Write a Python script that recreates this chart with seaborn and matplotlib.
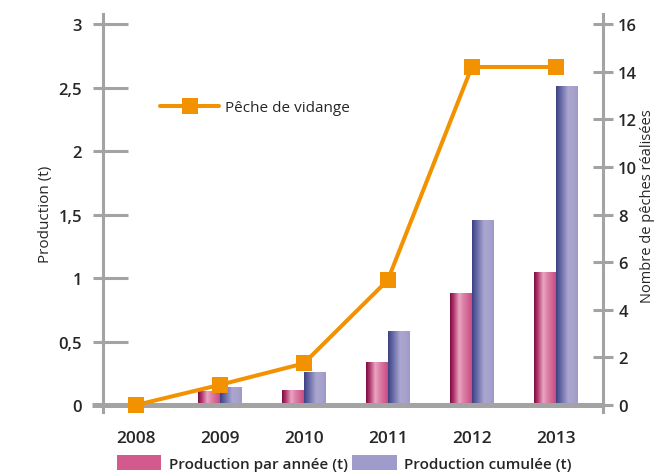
import numpy as np
import pandas as pd
import matplotlib.pyplot as plt
import matplotlib.colors as mcolors
from matplotlib.patches import Patch
from matplotlib.ticker import FixedLocator
import seaborn as sns

# ------------------------- data -------------------------
annees = ['2008', '2009', '2010', '2011', '2012', '2013']
prod_annee = [0, 0.11, 0.12, 0.34, 0.88, 1.05]
prod_cumul = [0, 0.14, 0.26, 0.58, 1.46, 2.51]
peches = [0, 0.85, 1.75, 5.25, 14.2, 14.2]

lab_annee = 'Production par année (t)'
lab_cumul = 'Production cumulée (t)'
lab_peche = 'Pêche de vidange'

left_ticks = [0, 0.5, 1, 1.5, 2, 2.5, 3]
left_labels = ['0', '0,5', '1', '1,5', '2', '2,5', '3']
right_ticks = [0, 2, 4, 6, 8, 10, 12, 14, 16]

df = pd.DataFrame({
    'annee': annees * 2,
    'production': prod_annee + prod_cumul,
    'serie': [lab_annee] * len(annees) + [lab_cumul] * len(annees),
})

# ------------------------- style -------------------------
sns.set_style('white')
plt.rcParams['font.family'] = ['Open Sans', 'DejaVu Sans']

grey = '#A3A3A3'
orange = '#F39200'
pink_mid = '#D25A8D'
purple_mid = '#9F9BCB'
pink_cmap = mcolors.LinearSegmentedColormap.from_list(
    'pk', [(0, '#7A0A42'), (0.18, '#B43A70'), (0.42, '#E8A6C2'),
           (0.65, '#DB7CA3'), (1.0, '#C94B82')])
purple_cmap = mcolors.LinearSegmentedColormap.from_list(
    'pu', [(0, '#3C4082'), (0.25, '#6A6EAA'), (0.55, '#AAA6CF'),
           (0.75, '#A8A4CD'), (1.0, '#9E9AC8')])

fig = plt.figure(figsize=(6.56, 4.77), dpi=100)
ax = fig.add_axes([0.157, 0.134, 0.762, 0.8346])

sns.barplot(data=df, x='annee', y='production', hue='serie',
            hue_order=[lab_annee, lab_cumul],
            palette=[pink_mid, purple_mid], width=0.512, saturation=1,
            legend=False, ax=ax, linewidth=0)

# gradient fill of each bar
grad = np.linspace(0, 1, 256).reshape(1, -1)
pink_rgb = np.array(mcolors.to_rgb(pink_mid))
for p in list(ax.patches):
    h = p.get_height()
    if h <= 0:
        continue
    x0 = p.get_x()
    w = p.get_width()
    fc = np.array(p.get_facecolor()[:3])
    cmap = pink_cmap if np.abs(fc - pink_rgb).max() < 0.05 else purple_cmap
    im = ax.imshow(grad, extent=[x0, x0 + w, 0, h], aspect='auto',
                   cmap=cmap, zorder=2, interpolation='bilinear')
    im.set_clip_path(p)
    p.set_facecolor('none')

ax.set_xlim(-0.39, 5.56)
ax.set_ylim(-0.055, 3.08)
ax.set_xlabel('')
ax.set_ylabel('Production (t)', fontsize=11, labelpad=4)

for s in ['top', 'right', 'bottom']:
    ax.spines[s].set_visible(False)
ax.spines['left'].set_color(grey)
ax.spines['left'].set_linewidth(2.2)

# horizontal base line at 0
ax.plot([-0.022, 1], [0, 0], transform=ax.get_yaxis_transform(),
        color=grey, lw=3.6, clip_on=False, zorder=3, solid_capstyle='butt')

ax.set_yticks(left_ticks)
ax.set_yticklabels(left_labels, fontsize=12, fontweight='semibold')
ax.tick_params(axis='y', which='major', direction='in', length=18,
               width=2.2, color=grey, pad=15)
ax.yaxis.remove_overlapping_locs = False
ax.yaxis.set_minor_locator(FixedLocator(left_ticks))
ax.tick_params(axis='y', which='minor', direction='out', length=7,
               width=2.2, color=grey)

ax.tick_params(axis='x', which='major', length=0, pad=13, labelsize=12.5)
for t in ax.get_xticklabels():
    t.set_fontweight('semibold')
ax.xaxis.set_minor_locator(FixedLocator([-0.39 + k for k in range(6)]))
ax.tick_params(axis='x', which='minor', direction='inout', length=7.5,
               width=2.2, color=grey)

# ------------------------- right axis -------------------------
ax2 = ax.twinx()
sns.lineplot(x=np.arange(len(annees)), y=peches, color=orange, lw=2.9,
             marker='s', markersize=11.5, markeredgewidth=0,
             label=lab_peche, ax=ax2)
for ln in ax2.lines:
    ln.set_clip_on(False)
ax2.set_ylim(-0.055 * 16 / 3, 3.08 * 16 / 3)
ax2.set_xlim(-0.39, 5.56)
for s in ['top', 'left', 'bottom']:
    ax2.spines[s].set_visible(False)
ax2.spines['right'].set_color(grey)
ax2.spines['right'].set_linewidth(2.2)
ax2.set_yticks(right_ticks)
ax2.set_yticklabels([str(v) for v in right_ticks], fontsize=12,
                    fontweight='semibold')
ax2.tick_params(axis='y', direction='inout', length=15, width=2.2,
                color=grey, pad=3.5)
ax2.set_ylabel('Nombre de pêches réalisées', fontsize=10.5)
ax2.yaxis.set_label_coords(1.074, 0.52)

leg = ax2.legend(loc='center left', bbox_to_anchor=(0.115, 0.765),
                 frameon=False, fontsize=11, handlelength=3.8,
                 handletextpad=0.4, borderpad=0, borderaxespad=0)

# bottom legend for bars
handles = [Patch(facecolor=pink_mid, edgecolor='none', label=lab_annee),
           Patch(facecolor=purple_mid, edgecolor='none', label=lab_cumul)]
fig.legend(handles=handles, loc='center', bbox_to_anchor=(0.525, 0.027),
           ncol=2, frameon=False, prop={'size': 11, 'weight': 'semibold'},
           handlelength=2.9, handleheight=1.05, handletextpad=0.5,
           columnspacing=0.3)

fig.savefig('out.png', dpi=100)
